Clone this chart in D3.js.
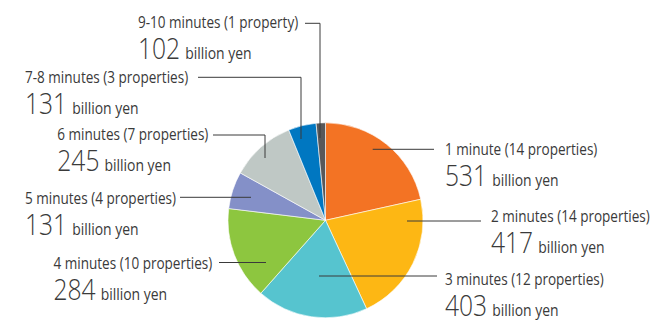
<!DOCTYPE html>
<html>
<head>
<meta charset="utf-8">
<script src="https://cdn.jsdelivr.net/npm/d3@7"></script>
<style>
  html, body { margin: 0; padding: 0; background: #fff; }
  svg { display: block; }
  text { font-family: "Open Sans", "Noto Sans", sans-serif; fill: #3a3a3a; }
</style>
</head>
<body>
<svg id="chart" width="651" height="320"></svg>
<script>
// Walking time from the nearest station, number of properties, and asset value
const categories = ["1 minute", "2 minutes", "3 minutes", "4 minutes", "5 minutes", "6 minutes", "7-8 minutes", "9-10 minutes"];
const properties = [14, 14, 12, 10, 4, 7, 3, 1];
const amounts = [531, 417, 403, 284, 131, 245, 131, 102];
const colors = ["#F37324", "#FDB714", "#56C4CF", "#8DC63F", "#8490C8", "#BFC8C5", "#0077C1", "#58585A"];

const svg = d3.select("#chart");
const cx = 325.5, cy = 220.3, R = 97.5;

// Leader-line routes and label anchors, one per category
const layout = [
  { pts: [[372.7, 149.3], [434, 149.3]], tx: 445, by: 155 },
  { pts: [[407, 221], [481, 221]], tx: 491, by: 221.7 },
  { pts: [[319, 276], [437, 276]], tx: 445, by: 285 },
  { pts: [[266, 262.5], [219, 262.5]], tx: 53.5, by: 269.3 },
  { pts: [[251, 197.3], [180, 197.3]], tx: 25, by: 204.3 },
  { pts: [[265, 158], [265, 135], [213, 135]], tx: 57.3, by: 140 },
  { pts: [[301, 139], [301, 77.3], [198, 77.3]], tx: 25, by: 83.3 },
  { pts: [[320, 138], [320, 23.3], [305, 23.3]], tx: 138, by: 28.3 }
];

const data = categories.map((c, i) => ({ category: c, properties: properties[i], amount: amounts[i], color: colors[i], i }));

const pie = d3.pie().sort(null).value(d => d.properties);
const arc = d3.arc().innerRadius(0).outerRadius(R);

const g = svg.append("g").attr("transform", `translate(${cx},${cy})`);
g.selectAll("path")
  .data(pie(data))
  .join("path")
  .attr("d", arc)
  .attr("fill", d => d.data.color)
  .attr("stroke", "#ffffff")
  .attr("stroke-width", 0.6)
  .attr("stroke-linejoin", "round");

// Leader lines
const line = d3.line();
svg.selectAll("path.leader")
  .data(data)
  .join("path")
  .attr("class", "leader")
  .attr("d", d => line(layout[d.i].pts))
  .attr("fill", "none")
  .attr("stroke", "#3a3a3a")
  .attr("stroke-width", 1);

// Condensed type: squeeze each run horizontally, keep the squeezed width
const CONDENSE = 0.82;
function condense(sel) {
  sel.each(function () {
    const w = this.getComputedTextLength() * CONDENSE;
    this.__width = w;
    d3.select(this).attr("textLength", w).attr("lengthAdjust", "spacingAndGlyphs");
  });
}

const propLabel = n => `(${n} ${n === 1 ? "property" : "properties"})`;

data.forEach(d => {
  const L = layout[d.i];
  svg.append("text")
    .attr("x", L.tx).attr("y", L.by)
    .attr("font-size", 16.5)
    .attr("fill", "#444")
    .text(`${d.category} ${propLabel(d.properties)}`)
    .call(condense);

  const num = svg.append("text")
    .attr("x", L.tx).attr("y", L.by + 31)
    .attr("font-size", 30)
    .attr("font-weight", 300)
    .attr("fill", "#222")
    .text(d.amount)
    .call(condense);
  const nw = num.node().__width;

  svg.append("text")
    .attr("x", L.tx + nw + 5).attr("y", L.by + 31)
    .attr("font-size", 17)
    .attr("fill", "#3a3a3a")
    .text("billion yen")
    .call(condense);
});
</script>
</body>
</html>
